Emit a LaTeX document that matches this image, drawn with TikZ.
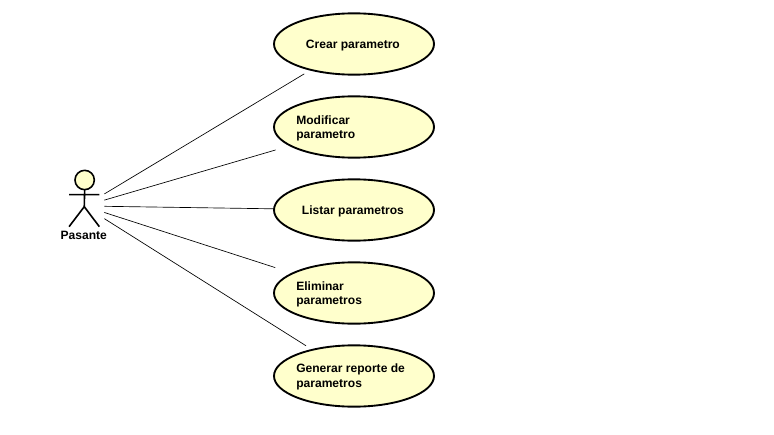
\documentclass[tikz,border=0pt]{standalone}
\usepackage{fontspec}
\usetikzlibrary{shapes.geometric}
\setmainfont{Liberation Sans}
\definecolor{ucfill}{RGB}{255,255,204}
\tikzset{
  usecase/.style={ellipse,draw=black,fill=ucfill,line width=1.4pt,minimum width=120pt,minimum height=46pt,inner sep=0pt,outer sep=0pt},
  uclabel/.style={font=\bfseries\fontsize{9.05}{11.2}\selectfont,align=left,inner sep=0pt},
  actorhead/.style={circle,draw=black,fill=ucfill,line width=1.2pt,minimum size=14.5pt,inner sep=0pt,outer sep=0pt},
  actorline/.style={line width=1.2pt},
  assoc/.style={line width=0.5pt}
}
\begin{document}
\begin{tikzpicture}[x=1pt,y=-1pt]
  \useasboundingbox[fill=white] (0,0) rectangle (580.5,326.25);
  % casos de uso
  \node[usecase] (crear) at (265.5,33) {};
  \node[usecase] (modificar) at (265.5,95.25) {};
  \node[usecase] (listar) at (265.5,157.5) {};
  \node[usecase] (eliminar) at (265.5,219.75) {};
  \node[usecase] (generar) at (265.5,282) {};
  \node[uclabel] (crearlbl) at (264.7,34) {Crear parametro};
  \node[uclabel,anchor=west] (modificarlbl) at (222,96.3) {Modificar\\parametro};
  \node[uclabel] (listarlbl) at (264.7,158.5) {Listar parametros};
  \node[uclabel,anchor=west] (eliminarlbl) at (222,220.8) {Eliminar\\parametros};
  \node[uclabel,anchor=west] (generarlbl) at (222,283) {Generar reporte de\\parametros};
  % actor
  \node[actorhead] (head) at (63.5,135) {};
  \coordinate (actor) at (63.2,154.5);
  \draw[actorline] (head.south)--(63.2,155) (51.8,146)--(74.5,146) (51.8,170)--(63.2,155)--(74.5,170);
  \node[uclabel] (pasante) at (62.8,176.6) {Pasante};
  % asociaciones
  \foreach \uc/\gapa/\gapb in {crear/17.6/5.9,modificar/15.6/11.6,listar/15/0,eliminar/15.8/13.8,generar/17.8/5.7}
    \draw[assoc,shorten <=\gapa pt,shorten >=\gapb pt] (actor)--(\uc);
\end{tikzpicture}
\end{document}
